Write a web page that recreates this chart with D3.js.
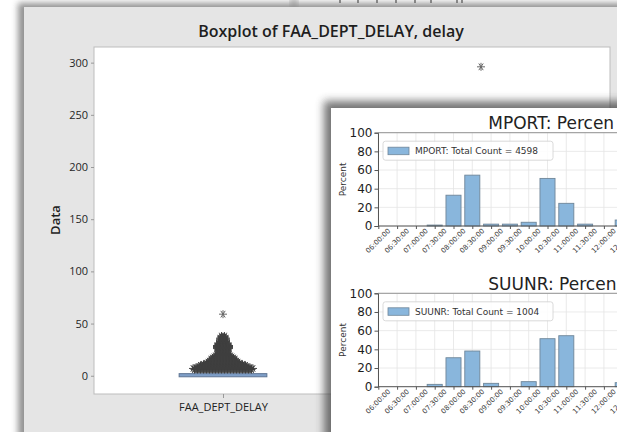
<!DOCTYPE html>
<html><head><meta charset="utf-8">
<script src="https://cdn.jsdelivr.net/npm/d3@7"></script>
<style>html,body{margin:0;padding:0;background:#fff;overflow:hidden}</style>
</head><body>
<svg id="c" width="617" height="432"></svg>
<script>
// ---------- Boxplot (Minitab window) data ----------
const boxTitle = "Boxplot of FAA_DEPT_DELAY, delay";
const boxCategories = ["FAA_DEPT_DELAY", "delay"];
const boxYTicks = [0, 50, 100, 150, 200, 250, 300];
const faaBoxStats = [-1, 0, 2];            // Q1, median, Q3
const faaOutlierValues = [6,7,8,9,10,11,12,13,14,15,16,17,18,19,20,21,22,23,24,25,26,27,28,29,30,31,32,33,34,35,36,37,38,59];
const faaOutlierCounts = [20,21,19,17,16,14,12,11,10,9,9,8,7,6,5,4,4,4,4,4,5,5,5,5,4,4,3,3,3,3,3,2,2,1];
const delayOutlierValues = [296];

// ---------- Histogram inset data ----------
const timeSlots = ["06:00:00","06:30:00","07:00:00","07:30:00","08:00:00","08:30:00","09:00:00","09:30:00","10:00:00","10:30:00","11:00:00","11:30:00","12:00:00","12:30:00"];
const mportPercent = [0, 0, 0, 1, 33, 54.5, 2, 2, 4, 51, 24.3, 2, 0, 6.4];
const suunrPercent = [0, 0, 0, 2.5, 31, 38.2, 3.6, 0, 5.4, 51.4, 54.6, 0, 0, 4.3];
const percentTicks = [0, 20, 40, 60, 80, 100];
const panelNames = ["MPORT", "SUUNR"];
const panelTotals = [4598, 1004];
const panelTitles = ["MPORT: Percen", "SUUNR: Percen"];

const svg = d3.select("#c");
const defs = svg.append("defs");
defs.append("filter").attr("id","blur3").attr("x","-20%").attr("y","-20%").attr("width","140%").attr("height","140%")
  .append("feGaussianBlur").attr("stdDeviation", 3);
defs.append("filter").attr("id","blur4").attr("x","-20%").attr("y","-20%").attr("width","140%").attr("height","140%")
  .append("feGaussianBlur").attr("stdDeviation", 4);
defs.append("clipPath").attr("id","insetClip").append("rect")
  .attr("x",331).attr("y",108).attr("width",286).attr("height",324);
defs.append("clipPath").attr("id","plotClip").append("rect")
  .attr("x",94).attr("y",47).attr("width",516).attr("height",347);

// window behind at top-right
svg.append("rect").attr("x",291).attr("y",-4).attr("width",6).attr("height",11)
  .attr("fill","#9a9a9a").attr("filter","url(#blur3)").attr("opacity",0.7);
const topMarks = [340, 358, 377, 396, 415, 431, 457, 462];
svg.append("g").selectAll("line").data(topMarks).join("line")
  .attr("x1", d => d).attr("x2", d => d).attr("y1", 0).attr("y2", 3)
  .attr("stroke", "#444").attr("stroke-width", 1.2);

// ---------- Minitab panel ----------
svg.append("rect").attr("x",18).attr("y",3).attr("width",640).attr("height",460)
  .attr("fill","#6f6f6f").attr("opacity",0.75).attr("filter","url(#blur3)");
svg.append("rect").attr("x",24).attr("y",7).attr("width",620).attr("height",440)
  .attr("fill","#e5e5e5");

const plot = {left: 94, right: 610, top: 47, bottom: 394};
const y = d3.scaleLinear().domain([-17.5, 315]).range([plot.bottom, plot.top]);
const x = d3.scalePoint().domain(boxCategories).range([plot.left, plot.right]).padding(0.5);

svg.append("rect").attr("x",plot.left).attr("y",plot.top)
  .attr("width",plot.right-plot.left).attr("height",plot.bottom-plot.top)
  .attr("fill","#fff").attr("stroke","#bdbdbd").attr("stroke-width",1);

svg.append("text").attr("x",331).attr("y",37).attr("text-anchor","middle")
  .attr("font-family","'Open Sans', sans-serif").attr("font-size",16).attr("font-weight",600)
  .attr("fill","#1e1e1e").text(boxTitle);

const yAxis = svg.append("g").attr("transform",`translate(${plot.left},0)`)
  .call(d3.axisLeft(y).tickValues(boxYTicks).tickSize(3).tickPadding(3));
yAxis.select(".domain").remove();
yAxis.selectAll(".tick line").attr("stroke","#999");
yAxis.selectAll(".tick text").attr("font-family","'Open Sans', sans-serif").attr("font-size",11)
  .attr("font-weight",500).attr("fill","#262626");

const xAxis = svg.append("g").attr("transform",`translate(0,${plot.bottom})`)
  .call(d3.axisBottom(x).tickValues([boxCategories[0]]).tickSize(4).tickPadding(5));
xAxis.select(".domain").remove();
xAxis.selectAll(".tick line").attr("stroke","#999");
xAxis.selectAll(".tick text").attr("font-family","'Open Sans', sans-serif").attr("font-size",11)
  .attr("font-weight",500).attr("fill","#222");

svg.append("text").attr("transform","translate(60,220) rotate(-90)").attr("text-anchor","middle")
  .attr("font-family","'Open Sans', sans-serif").attr("font-size",13).attr("font-weight",600)
  .attr("fill","#1e1e1e").text("Data");

// box for FAA_DEPT_DELAY
const boxW = x.step() * 0.34;
const cx0 = x(boxCategories[0]);
const plotG = svg.append("g").attr("clip-path","url(#plotClip)");
plotG.append("rect").attr("x", cx0 - boxW/2).attr("y", y(faaBoxStats[2]))
  .attr("width", boxW).attr("height", y(faaBoxStats[0]) - y(faaBoxStats[2]))
  .attr("fill","#7f9fc8").attr("stroke","#5d7493").attr("stroke-width",1);

function asterisk(r) {
  const a = r * 0.55, b = r * 0.83;
  return `M${-r},0L${r},0M${-a},${-b}L${a},${b}M${-a},${b}L${a},${-b}M0,${-r}L0,${r}`;
}
const pts = [];
faaOutlierValues.forEach((v, i) => {
  const n = faaOutlierCounts[i];
  for (let j = 0; j < n; j++) pts.push({cat: boxCategories[0], v, off: (j - (n - 1) / 2) * 3});
});
delayOutlierValues.forEach(v => pts.push({cat: boxCategories[1], v, off: 0}));
plotG.append("g").selectAll("path").data(pts).join("path")
  .attr("transform", d => `translate(${x(d.cat) + d.off},${y(d.v)})`)
  .attr("d", asterisk(4)).attr("fill","none")
  .attr("stroke", d => d.v > 50 ? "#666" : "#3f3f3f").attr("stroke-width", 1);

// ---------- Inset (histograms) ----------
svg.append("rect").attr("x",324).attr("y",101).attr("width",320).attr("height",360)
  .attr("fill","#3a3a3a").attr("opacity",0.7).attr("filter","url(#blur4)");
const inset = svg.append("g").attr("clip-path","url(#insetClip)");
inset.append("rect").attr("x",331).attr("y",108).attr("width",290).attr("height",330).attr("fill","#fff");

const xi = d3.scalePoint().domain(timeSlots).range([378.3, 378.3 + 18.8 * (timeSlots.length - 1)]);
const barW = 18.8 * 0.8;
const panelTops = [132.7, 293.3];
const panelBottoms = [226, 386.7];
const panelData = [mportPercent, suunrPercent];
const font = "'DejaVu Sans', sans-serif";

panelData.forEach((vals, p) => {
  const top = panelTops[p], bot = panelBottoms[p];
  const yi = d3.scaleLinear().domain([0, 100]).range([bot, top]);
  const g = inset.append("g");
  const axLeft = 378, axRight = 640;
  // grid
  g.append("g").selectAll("line").data(timeSlots).join("line")
    .attr("x1", d => xi(d)).attr("x2", d => xi(d)).attr("y1", top).attr("y2", bot)
    .attr("stroke","#e4e4e4").attr("stroke-width",0.8);
  g.append("g").selectAll("line").data(percentTicks).join("line")
    .attr("x1", axLeft).attr("x2", axRight).attr("y1", d => yi(d)).attr("y2", d => yi(d))
    .attr("stroke","#e4e4e4").attr("stroke-width",0.8);
  // bars
  g.append("g").selectAll("rect").data(vals).join("rect")
    .attr("x", (d, i) => xi(timeSlots[i]) - barW / 2)
    .attr("y", d => yi(d))
    .attr("width", barW)
    .attr("height", d => bot - yi(d))
    .attr("fill","#89b6dc").attr("stroke","#6f8699").attr("stroke-width",0.9);
  // spines
  g.append("line").attr("x1",axLeft).attr("x2",axRight).attr("y1",top).attr("y2",top)
    .attr("stroke","#8a8a8a").attr("stroke-width",0.9);
  // y axis
  const ya = g.append("g").attr("transform",`translate(${axLeft},0)`)
    .call(d3.axisLeft(yi).tickValues(percentTicks).tickSize(3.5).tickPadding(2));
  ya.select(".domain").attr("stroke","#555");
  ya.selectAll(".tick line").attr("stroke","#555");
  ya.selectAll(".tick text").attr("font-family",font).attr("font-size",12).attr("fill","#1e1e1e");
  // x axis
  const xa = g.append("g").attr("transform",`translate(0,${bot})`)
    .call(d3.axisBottom(xi).tickSize(3).tickFormat(""));
  xa.select(".domain").attr("d", `M${axLeft},0H${axRight}`).attr("stroke","#555");
  xa.selectAll(".tick line").attr("stroke","#555");
  g.append("g").selectAll("text").data(timeSlots).join("text")
    .attr("transform", d => `translate(${xi(d)},${bot + 15}) rotate(-45)`)
    .attr("text-anchor","middle").attr("dominant-baseline","central")
    .attr("font-family",font).attr("font-size",7).attr("fill","#3a3a3a").text(d => d);
  // y label
  g.append("text").attr("transform",`translate(346,${(top + bot) / 2}) rotate(-90)`)
    .attr("text-anchor","middle").attr("font-family",font).attr("font-size",9).attr("fill","#333")
    .text("Percent");
  // title
  g.append("text").attr("x",488.3).attr("y",top - 3.6)
    .attr("font-family",font).attr("font-size",17).attr("fill","#222").text(panelTitles[p]);
  // legend
  const lg = g.append("g");
  lg.append("rect").attr("x",383).attr("y",top + 8.5).attr("width",170).attr("height",19).attr("rx",2.5)
    .attr("fill","#fff").attr("fill-opacity",0.85).attr("stroke","#d0d0d0").attr("stroke-width",0.8);
  lg.append("rect").attr("x",388).attr("y",top + 14.5).attr("width",21).attr("height",7.5)
    .attr("fill","#89b6dc").attr("stroke","#6f8699").attr("stroke-width",0.8);
  lg.append("text").attr("x",415).attr("y",top + 21.5)
    .attr("font-family",font).attr("font-size",9).attr("fill","#333")
    .text(`${panelNames[p]}: Total Count = ${panelTotals[p]}`);
});
</script>
</body></html>
